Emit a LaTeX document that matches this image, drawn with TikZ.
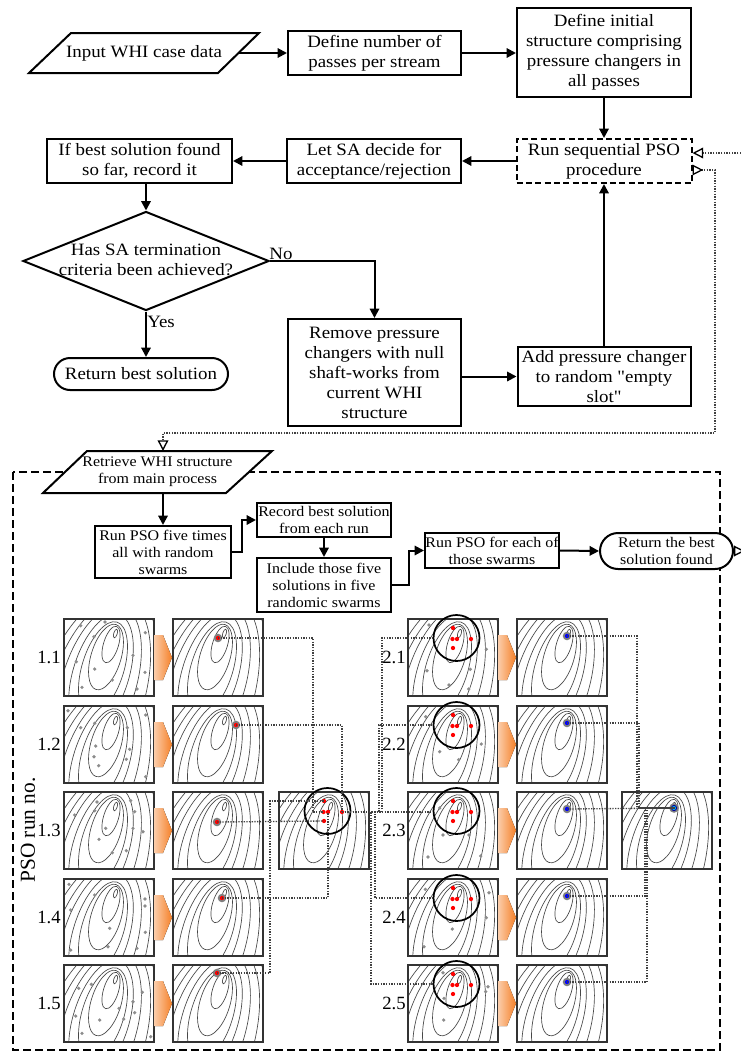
\documentclass[tikz,border=0pt]{standalone}
\usepackage{fontspec}
\setmainfont[FakeStretch=1.09,Ligatures=TeXOff]{Liberation Serif}
\newfontfamily\lblfont{Liberation Serif}
\usetikzlibrary{arrows.meta,shapes.geometric,calc}
\definecolor{peach}{RGB}{251,205,170}
\definecolor{orng}{RGB}{245,128,40}
\newcommand\drawcontours[2]{%
  \begin{scope}[shift={(#1,#2)}]
    \clip (0,0) rectangle (90,77);
    \foreach \ea/\eb/\ec/\ed in {51.5/14.5/1.8/4.5,47/25.5/7.5/19,42/38/15/34,39/49/21/48,37/55/28/62,35/64/37/80,33/76/47/100,30/90/58/120}{
      \begin{scope}[shift={(\ea,\eb)},rotate=-17]
        \draw[contour] (0,0) ellipse [x radius=\ec*0.75pt, y radius=\ed*0.75pt];
      \end{scope}}
  \end{scope}}
\tikzset{
  bigtxt/.style={font=\fontsize{13}{15}\selectfont},
  smalltxt/.style={font=\fontsize{11}{12.75}\selectfont},
  fbox/.style={draw, fill=white, line width=1.5pt, rectangle, align=center, inner sep=0pt},
  sz/.style 2 args={minimum width=#1*0.75pt, minimum height=#2*0.75pt},
  arr/.style={line width=1.5pt, -{Triangle[length=7pt,width=7pt]}},
  ln/.style={line width=1.5pt},
  dotc/.style={line width=1pt, draw=black!75, dash pattern=on 1pt off 1pt},
  panel/.style={draw=black!80, line width=1.1pt, minimum width=67.5pt, minimum height=57.75pt, inner sep=0pt},
  contour/.style={draw=black!72, line width=0.5pt},
  gdot/.style={fill=black!45},
  halo/.style={fill=black!50},
  ring/.style={draw=black, line width=1.3pt, circle, minimum size=34.5pt, inner sep=0pt},
  chev/.style={left color=peach, right color=orng, draw=none},
  lbl/.style={font=\lblfont\fontsize{14}{16}\selectfont, inner sep=0pt}
}
\begin{document}
\begin{tikzpicture}[x=0.75pt,y=-0.75pt]
\fill[white] (0,0) rectangle (741,1053);
\useasboundingbox (0,0) rectangle (741,1053);

% ---------- main process ----------
\draw[ln, fill=white] (29,73) -- (71,33) -- (259,33) -- (218,73) -- cycle;
\node[bigtxt] (inp) at (144,53) {Input WHI case data};
\coordinate (inpR) at (238.5,53);
\node[fbox,bigtxt,sz={173}{44}] (defn) at (374.5,53) {Define number of\\passes per stream};
\node[fbox,bigtxt,sz={174}{89}] (init) at (604,52.5) {Define initial\\structure comprising\\pressure changers in\\all passes};
\node[fbox,bigtxt,sz={175}{44},dash pattern=on 4.5pt off 2.5pt] (pso) at (604,161) {Run sequential PSO\\procedure};
\node[fbox,bigtxt,sz={174}{44}] (letsa) at (374,161) {Let SA decide for\\acceptance/rejection};
\node[fbox,bigtxt,sz={185}{44}] (ifbest) at (139.5,161) {If best solution found\\so far, record it};
\node[draw, diamond, line width=1.5pt, sz={246}{99}, inner sep=0pt] (dia) at (146,261) {};
\node[bigtxt, align=center, inner sep=0pt] (diat) at (146,260) {Has SA termination\\criteria been achieved?};
\node[bigtxt, inner sep=0pt] (no) at (281,254) {No};
\node[bigtxt, inner sep=0pt] (yes) at (161,322) {Yes};
\node[fbox,bigtxt,sz={174}{32},rounded corners=12pt] (ret1) at (141,374) {Return best solution};
\node[fbox,bigtxt,sz={173}{107}] (rem) at (374.5,372.5) {Remove pressure\\changers with null\\shaft-works from\\current WHI\\structure};
\node[fbox,bigtxt,sz={173}{59}] (add) at (604,376.5) {Add pressure changer\\to random "empty\\slot"};

\draw[arr] (inpR) -- (defn.west);
\draw[arr] (defn.east) -- (init.west |- defn.east);
\draw[arr] (init.south) -- (pso.north);
\draw[arr] (pso.west) -- (letsa.east);
\draw[arr] (letsa.west) -- (ifbest.east);
\draw[arr] (ifbest.south -| dia.north) -- (dia.north);
\draw[arr] (dia.east) -| (rem.north);
\draw[arr] (dia.south) -- (dia.south |- ret1.north);
\draw[arr] (rem.east |- add.west) -- (add.west);
\draw[arr] (add.north) -- (pso.south);

% ---------- sub process ----------
\draw[line width=1.8pt, dash pattern=on 6pt off 3pt] (13,472) rectangle (720,1050);
\draw[ln, fill=white] (43,493) -- (87,451) -- (272,451) -- (226,493) -- cycle;
\node[smalltxt, align=center, inner sep=0pt] (retr) at (157.5,472) {Retrieve WHI structure\\from main process};
\coordinate (retrT) at (163,451);
\coordinate (retrB) at (163,493);
\node[fbox,smalltxt,sz={136}{52}] (run5) at (163,552) {Run PSO five times\\all with random\\swarms};
\node[fbox,smalltxt,sz={134}{34}] (rec) at (324,520) {Record best solution\\from each run};
\node[fbox,smalltxt,sz={134}{54}] (inc) at (324,585) {Include those five\\solutions in five\\randomic swarms};
\node[fbox,smalltxt,sz={134}{35}] (runE) at (492,550.5) {Run PSO for each of\\those swarms};
\node[fbox,smalltxt,sz={133}{36},rounded corners=13.5pt] (ret2) at (666.5,551) {Return the best\\solution found};
\draw[arr] (retrB) -- (run5.north);
\draw[arr] (run5.east) -- ++(10,0) |- (rec.west);
\draw[arr] (rec.south) -- (inc.north);
\draw[arr] (inc.east) -- ++(17,0) |- (runE.west);
\draw[arr] (runE.east) -- (ret2.west);

% dotted links between processes
\coordinate (edgeA) at (741,153);
\coordinate (edgeB) at (745,551);
\draw[dotc, -{Triangle[open,length=8pt,width=8pt,color=black]}] (edgeA) -- ($(pso.east)+(0,-8)$);
\draw[dotc, {Triangle[open,reversed,length=8pt,width=8pt,color=black]}-{Triangle[open,length=8pt,width=8pt,color=black]}] ($(pso.east)+(0,9)$) -- ++(22.5,0) |- (163,433) -- (retrT);
\draw[dotc, {Triangle[open,reversed,length=8pt,width=8pt,color=black]}-] (ret2.east) -- (edgeB);

% ---------- PSO panels ----------
\foreach \T [count=\i] in {619,706,792,879,965}{
  \drawcontours{64}{\T}
  \drawcontours{173}{\T}
  \drawcontours{408}{\T}
  \drawcontours{517}{\T}
  \node[panel] (pA\i) at (109,\T+38.5) {};
  \node[panel] (pB\i) at (218,\T+38.5) {};
  \node[panel] (pD\i) at (453,\T+38.5) {};
  \node[panel] (pE\i) at (562,\T+38.5) {};
  \fill[chev] (154,\T+16) -- (163,\T+16) -- (172,\T+38.5) -- (163,\T+61) -- (154,\T+61) -- cycle;
  \fill[chev] (498,\T+16) -- (507,\T+16) -- (516,\T+38.5) -- (507,\T+61) -- (498,\T+61) -- cycle;
  \node[lbl, anchor=east] (la\i) at (61,\T+38.5) {1.\i};
  \node[lbl, anchor=east] (lb\i) at (406,\T+38.5) {2.\i};
  \node[ring] (rD\i) at (456.5,\T+19) {};
  \coordinate (bE\i) at (567,\T+17);
}
\drawcontours{279}{792}
\node[panel] (pC) at (324,830.5) {};
\drawcontours{622}{792}
\node[panel] (pF) at (667,830.5) {};
\node[ring] (rC) at (327.5,811) {};
\node[font=\lblfont\fontsize{16}{18}\selectfont, rotate=90, inner sep=0pt] (runno) at (28,830) {PSO run no.};

% gray swarm particles
\begin{scope}[shift={(64,619)}]
\foreach \a/\b in {16.7/6.7,41/3,30/17.7,81.3/13.7,12.3/42.7,30.7/50,69/36.3,48.3/61,81/53.3,18/68.3,73/70}
  \fill[gdot] (\a,\b) circle[radius=1.35pt];
\end{scope}
\begin{scope}[shift={(64,706)}]
\foreach \a/\b in {4/4.7,16.7/21.7,30.7/17.3,81.7/9,63.3/21.7,31.7/40,30/50.7,34.7/59.7,62.3/53.3,65.7/43.3,81.7/70.7}
  \fill[gdot] (\a,\b) circle[radius=1.35pt];
\end{scope}
\begin{scope}[shift={(64,792)}]
\foreach \a/\b in {10.7/23,41.7/36.3,35/47.3,70.7/19.7,69/36.3,79/39.7,48.3/60.7,62.3/58.7,33/10,30.7/18.7,66.7/8.7}
  \fill[gdot] (\a,\b) circle[radius=1.35pt];
\end{scope}
\begin{scope}[shift={(64,879)}]
\foreach \a/\b in {5/5.3,30.7/16,6.7/31,81/20,81/27,45.7/49.3,81.3/53.3,44/67.7,73/69.3,6.7/71}
  \fill[gdot] (\a,\b) circle[radius=1.35pt];
\end{scope}
\begin{scope}[shift={(64,965)}]
\foreach \a/\b in {14.7/23.3,27.3/19.3,69/36.7,78.3/27.3,55/43.3,59.7/54,70.7/47.7,35.7/55,11.7/51,18/68.3,86.7/71.7}
  \fill[gdot] (\a,\b) circle[radius=1.35pt];
\end{scope}
\begin{scope}[shift={(408,619)}]
\foreach \a/\b in {21/6,78.3/30.3,19/51.7,62.3/50.3,41/66,60.7/70}
  \fill[gdot] (\a,\b) circle[radius=1.35pt];
\end{scope}
\begin{scope}[shift={(408,706)}]
\foreach \a/\b in {17.7/10.7,62.7/20,73.3/38,31.7/45.7,50.7/53.7}
  \fill[gdot] (\a,\b) circle[radius=1.35pt];
\end{scope}
\begin{scope}[shift={(408,792)}]
\foreach \a/\b in {31.7/16,35/43,61/43,20/65,72.7/64}
  \fill[gdot] (\a,\b) circle[radius=1.35pt];
\end{scope}
\begin{scope}[shift={(408,879)}]
\foreach \a/\b in {17.3/10.3,81/13.7,78.3/38.7,44.3/50,16/67.7}
  \fill[gdot] (\a,\b) circle[radius=1.35pt];
\end{scope}
\begin{scope}[shift={(408,965)}]
\foreach \a/\b in {35/7.7,80/21.7,77.7/26.7,36/33.3,35.7/55}
  \fill[gdot] (\a,\b) circle[radius=1.35pt];
\end{scope}

% red clusters inside the circles
\foreach \c in {rC,rD1,rD2,rD3,rD4,rD5}
  \foreach \a/\b in {-3.5/-10,-4/1,0.5/1,14.5/1,-3.5/10}
    \fill[red] ($(\c.center)+(\a,\b)$) circle[radius=1.6pt];
\coordinate (dA) at ($(rC.center)+(-3.5,-10)$);
\coordinate (dB) at ($(rC.center)+(-4,1)$);
\coordinate (dC) at ($(rC.center)+(0.5,1)$);
\coordinate (dD) at ($(rC.center)+(14.5,1)$);
\coordinate (dE) at ($(rC.center)+(-3.5,10)$);

% best points of first runs
\coordinate (bB1) at (218,638);
\coordinate (bB2) at (236,725);
\coordinate (bB3) at (217,822);
\coordinate (bB4) at (222,898);
\coordinate (bB5) at (217,973);
\foreach \p in {bB1,bB2,bB3,bB4,bB5}{
  \fill[halo] (\p) circle[radius=3.2pt];
  \fill[red] (\p) circle[radius=1.6pt];}
\foreach \p in {bE1,bE2,bE3,bE4,bE5}{
  \fill[halo] (\p) circle[radius=3.2pt];
  \fill[blue] (\p) circle[radius=1.6pt];}
\coordinate (cF) at (674,808);
\fill[halo] (cF) circle[radius=3.6pt];
\filldraw[fill=cyan, draw=blue!60!black, line width=0.6pt] (cF) circle[radius=2pt];

% dotted connectors between panels
\draw[dotc] (bB1) -- ++(95,0) |- (dB);
\draw[dotc] (bB2) -| (dD);
\draw[dotc] (bB3) -- (dE);
\draw[dotc] (bB4) -| (dC);
\draw[dotc] (bB5) -- ++(53,0) |- (dA);

\draw[dotc] (dD) -- ++(40,0) |- (rD1.west);
\draw[dotc] (dD) -- ++(37,0) |- (rD2.west);
\draw[dotc] (dD) -- (dD -| rD3.west);
\draw[dotc] (dD) -- ++(33,0) |- (rD4.west);
\draw[dotc] (dD) -- ++(29,0) |- (rD5.west);

\draw[dotc] (bE1) -- ++(70,0) |- (cF);
\draw[dotc] (bE2) -- ++(72,0) |- (cF);
\draw[dotc] (bE3) -- (cF);
\draw[dotc] (bE4) -- ++(78,0) |- (cF);
\draw[dotc] (bE5) -- ++(80,0) |- (cF);
\end{tikzpicture}
\end{document}
